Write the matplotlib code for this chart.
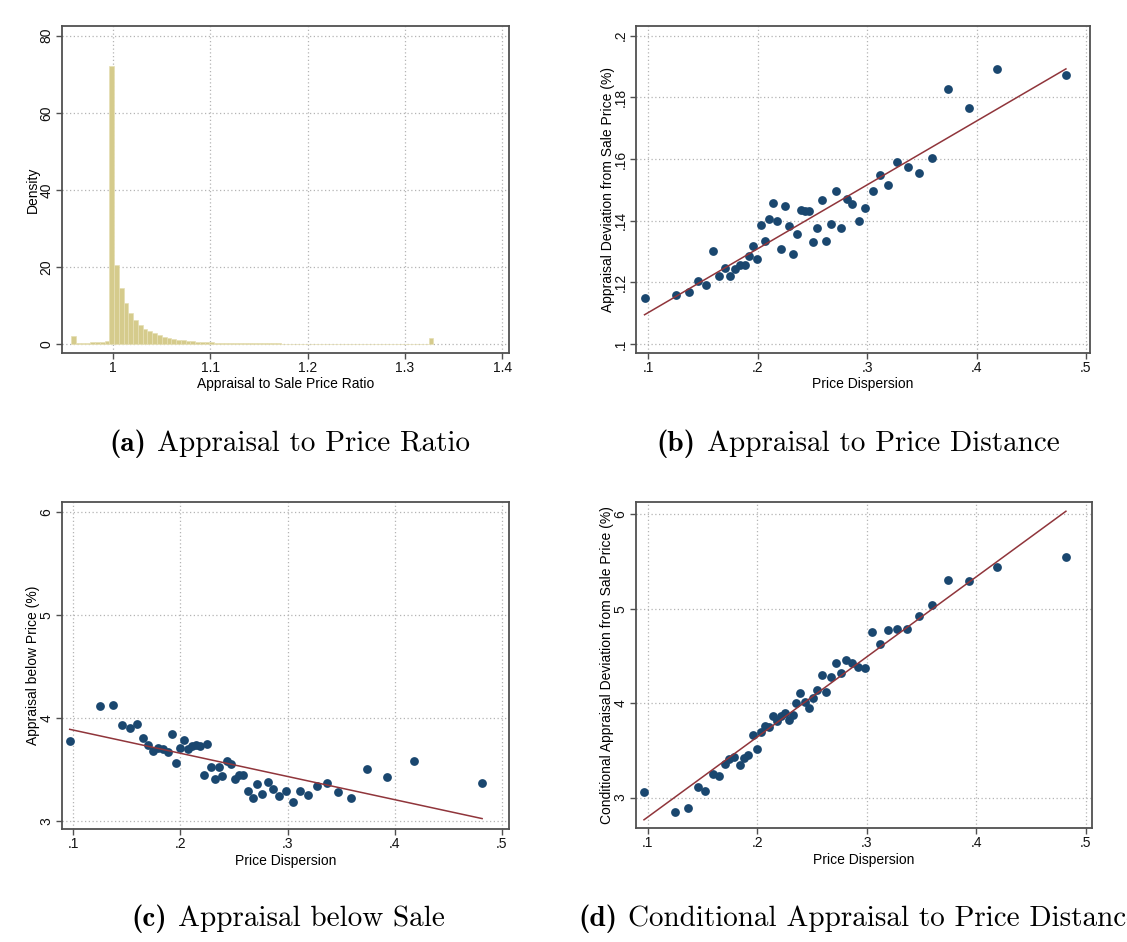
import numpy as np
import matplotlib
matplotlib.use("Agg")
import matplotlib.pyplot as plt

plt.rcParams['font.family'] = ['Liberation Sans', 'DejaVu Sans']

# histogram of appraisal / sale price ratio (density per bin)
hist_lo = 0.957
hist_width = 0.0049
hist_density = [
    2.0, 0.2, 0.3, 0.35, 0.45, 0.55, 0.65, 0.7,
    72.2, 20.5, 14.5, 10.6, 8.0, 6.2, 4.9, 4.0, 3.3, 2.8,
    2.3, 1.9, 1.6, 1.35, 1.15, 1.0, 0.85, 0.75, 0.65, 0.57,
    0.5, 0.45, 0.4, 0.36, 0.32, 0.29, 0.27, 0.25, 0.23, 0.21,
    0.2, 0.19, 0.18, 0.18, 0.17, 0.17, 0.16, 0.16, 0.16, 0.15,
    0.15, 0.15, 0.14, 0.14, 0.14, 0.14, 0.13, 0.13, 0.13, 0.13,
    0.13, 0.12, 0.12, 0.12, 0.12, 0.12, 0.12, 0.11, 0.11, 0.11,
    0.11, 0.11, 0.11, 0.1, 0.1, 0.1, 0.1, 1.7,
]

# binned scatter: mean price dispersion per bin
dispersion = [
    0.0966, 0.1253, 0.1369, 0.1457, 0.1527, 0.1594, 0.1649, 0.1701, 0.1746, 0.1792,
    0.1838, 0.1880, 0.1917, 0.1957, 0.1996, 0.2033, 0.2069, 0.2106, 0.2142, 0.2179,
    0.2216, 0.2252, 0.2289, 0.2325, 0.2356, 0.2392, 0.2432, 0.2471, 0.2508, 0.2545,
    0.2587, 0.2627, 0.2673, 0.2718, 0.2764, 0.2813, 0.2864, 0.2922, 0.2983, 0.3050,
    0.3117, 0.3190, 0.3276, 0.3370, 0.3474, 0.3596, 0.3742, 0.3928, 0.4184, 0.4817,
]

deviation = [
    0.1150, 0.1158, 0.1170, 0.1204, 0.1191, 0.1301, 0.1222, 0.1245, 0.1221, 0.1242,
    0.1256, 0.1256, 0.1285, 0.1317, 0.1276, 0.1387, 0.1334, 0.1404, 0.1458, 0.1398,
    0.1309, 0.1448, 0.1384, 0.1293, 0.1358, 0.1435, 0.1431, 0.1431, 0.1332, 0.1377,
    0.1466, 0.1334, 0.1389, 0.1495, 0.1375, 0.1471, 0.1453, 0.1398, 0.1440, 0.1495,
    0.1548, 0.1517, 0.1591, 0.1573, 0.1553, 0.1604, 0.1826, 0.1764, 0.1893, 0.1872,
]

below_price = [
    3.776, 4.115, 4.122, 3.928, 3.899, 3.944, 3.805, 3.734, 3.682, 3.708,
    3.698, 3.669, 3.847, 3.566, 3.705, 3.782, 3.698, 3.731, 3.734, 3.724,
    3.446, 3.744, 3.524, 3.407, 3.527, 3.436, 3.585, 3.556, 3.411, 3.446,
    3.446, 3.288, 3.220, 3.356, 3.262, 3.378, 3.307, 3.246, 3.288, 3.188,
    3.288, 3.249, 3.336, 3.365, 3.281, 3.220, 3.501, 3.423, 3.582, 3.372,
]

cond_deviation = [
    3.060, 2.848, 2.884, 3.109, 3.074, 3.254, 3.229, 3.356, 3.409, 3.424,
    3.349, 3.420, 3.455, 3.667, 3.519, 3.695, 3.759, 3.745, 3.861, 3.812,
    3.861, 3.900, 3.819, 3.875, 4.006, 4.108, 4.009, 3.953, 4.059, 4.136,
    4.295, 4.115, 4.278, 4.426, 4.316, 4.454, 4.422, 4.384, 4.376, 4.751,
    4.624, 4.772, 4.782, 4.782, 4.920, 5.044, 5.305, 5.294, 5.442, 5.548,
]

# fitted values of the linear fit at the first and last bin
fit_deviation = [0.1095, 0.1892]
fit_below = [3.889, 3.023]
fit_cond = [2.764, 6.032]

cap_labels = ['(a)', '(b)', '(c)', '(d)']
cap_texts = [
    'Appraisal to Price Ratio',
    'Appraisal to Price Distance',
    'Appraisal below Sale',
    'Conditional Appraisal to Price Distance',
]

NAVY = '#1a476f'
MAROON = '#90353b'
KHAKI = '#d5cb8c'
SPINE = '#505050'
GRID = '#b4b4b4'

W, H = 1127, 942


def make_axes(fig, left, top, right, bottom):
    ax = fig.add_axes([left / W, 1 - bottom / H, (right - left) / W, (bottom - top) / H])
    for s in ax.spines.values():
        s.set_color(SPINE)
        s.set_linewidth(1.3)
    ax.tick_params(direction='out', length=4, width=1, color=SPINE,
                   labelsize=10, labelcolor='#111111', pad=2)
    ax.grid(True, color=GRID, linestyle=(0, (1, 2)), linewidth=0.9)
    ax.set_axisbelow(True)
    return ax


def finish(ax, xlab, ylab, xticks, xlabels, yticks, ylabels, xl, yl):
    ax.set_xticks(xticks)
    ax.set_xticklabels(xlabels)
    ax.set_yticks(yticks)
    ax.set_yticklabels(ylabels, rotation=90, va='center')
    ax.set_xlabel(xlab, fontsize=10)
    ax.set_ylabel(ylab, fontsize=10)
    ax.xaxis.label.set_va('center')
    ax.yaxis.label.set_va('center')
    ax.xaxis.set_label_coords(0.5, xl)
    ax.yaxis.set_label_coords(yl, 0.5)


def scatter_fit(ax, y, fit):
    ax.scatter(dispersion, y, s=40, color=NAVY, linewidths=0, zorder=3)
    ax.plot([dispersion[0], dispersion[-1]], fit, color=MAROON, lw=1.1, zorder=4)


def caption(fig, renderer, label, text, x, y, centered=True):
    # bold label followed by roman text; x is the centre (or left edge) in pixels
    gap = 11
    lab = fig.text(0, 1 - y / H, label, family='cmb10', fontsize=21, va='center')
    txt = fig.text(0, 1 - y / H, text, family='cmr10', fontsize=21, va='center')
    wl = lab.get_window_extent(renderer).width
    wt = txt.get_window_extent(renderer).width
    x0 = x - (wl + gap + wt) / 2 if centered else x
    lab.set_x(x0 / W)
    txt.set_x((x0 + wl + gap) / W)


fig = plt.figure(figsize=(W / 100, H / 100), dpi=100)

xt = [0.1, 0.2, 0.3, 0.4, 0.5]
xtl = ['.1', '.2', '.3', '.4', '.5']

# (a) histogram
ax = make_axes(fig, 62, 26, 509, 353)
lefts = [hist_lo + i * hist_width for i in range(len(hist_density))]
ax.bar(lefts, hist_density, width=hist_width, align='edge', color=KHAKI,
       edgecolor='#e6dfb4', linewidth=0.5, zorder=2)
ax.set_xlim(0.9476, 1.407)
ax.set_ylim(-2.3, 82.5)
finish(ax, 'Appraisal to Sale Price Ratio', 'Density',
       [1.0, 1.1, 1.2, 1.3, 1.4], ['1', '1.1', '1.2', '1.3', '1.4'],
       [0, 20, 40, 60, 80], ['0', '20', '40', '60', '80'], -0.095, -0.065)

# (b) appraisal deviation vs dispersion
ax = make_axes(fig, 636, 26, 1090, 353)
scatter_fit(ax, deviation, fit_deviation)
ax.set_xlim(0.0888, 0.5037)
ax.set_ylim(0.0971, 0.2031)
finish(ax, 'Price Dispersion', 'Appraisal Deviation from Sale Price (%)', xt, xtl,
       [0.1, 0.12, 0.14, 0.16, 0.18, 0.2], ['.1', '.12', '.14', '.16', '.18', '.2'],
       -0.095, -0.062)

# (c) appraisal below price vs dispersion
ax = make_axes(fig, 62, 502, 509, 829)
scatter_fit(ax, below_price, fit_below)
ax.set_xlim(0.0894, 0.5068)
ax.set_ylim(2.922, 6.094)
finish(ax, 'Price Dispersion', 'Appraisal below Price (%)', xt, xtl,
       [3, 4, 5, 6], ['3', '4', '5', '6'], -0.098, -0.065)

# (d) conditional deviation vs dispersion
ax = make_axes(fig, 636, 502, 1092, 828)
scatter_fit(ax, cond_deviation, fit_cond)
ax.set_xlim(0.0893, 0.5055)
ax.set_ylim(2.677, 6.130)
finish(ax, 'Price Dispersion', 'Conditional Appraisal Deviation from Sale Price (%)', xt, xtl,
       [3, 4, 5, 6], ['3', '4', '5', '6'], -0.098, -0.064)

# sub-figure captions
renderer = fig.canvas.get_renderer()
caption(fig, renderer, cap_labels[0], cap_texts[0], 290, 444)
caption(fig, renderer, cap_labels[1], cap_texts[1], 858, 444)
caption(fig, renderer, cap_labels[2], cap_texts[2], 288, 919)
caption(fig, renderer, cap_labels[3], cap_texts[3], 578, 919, centered=False)

fig.savefig('out.png', dpi=100, facecolor='white')
